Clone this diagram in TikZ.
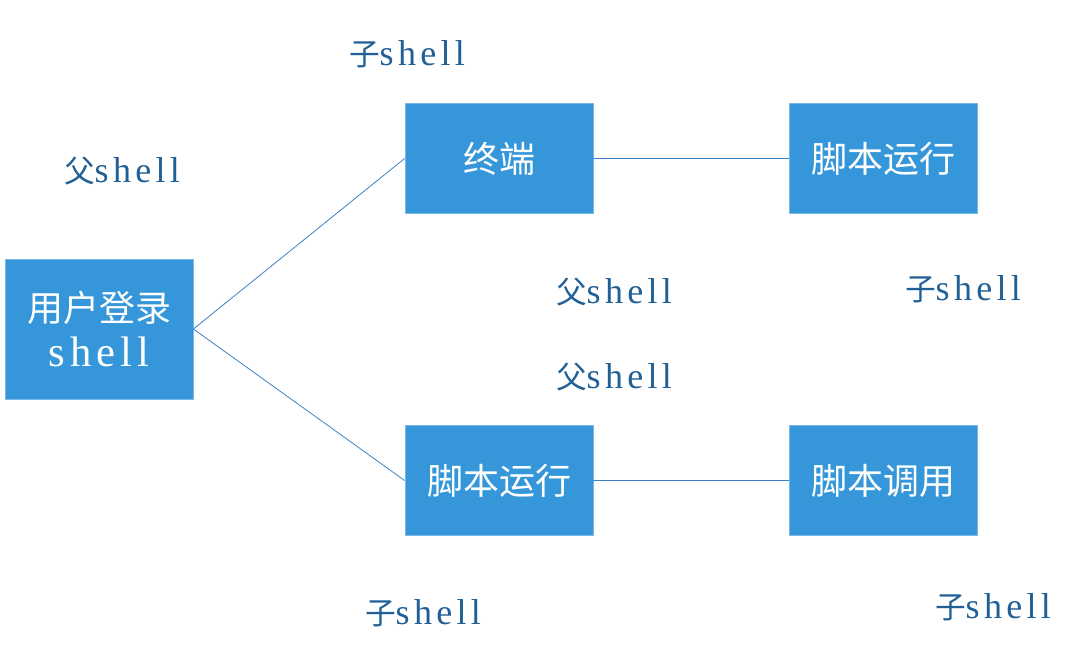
\documentclass[tikz,border=0pt]{standalone}
\usepackage{fontspec}
\newfontfamily\cjk{Noto Sans CJK SC}
\newfontfamily\lat[LetterSpace=12]{Liberation Serif}
\definecolor{boxblue}{RGB}{53,151,218}
\definecolor{boxedge}{RGB}{120,185,230}
\definecolor{linkblue}{RGB}{60,130,200}
\definecolor{labblue}{RGB}{32,96,150}
\newcommand{\shl}[1]{{\lat\fontsize{#1}{#1}\selectfont shell}}
\begin{document}
\begin{tikzpicture}[x=0.75pt,y=-0.75pt,
  box/.style={draw=boxedge,line width=0.6pt,fill=boxblue,minimum width=141pt,minimum height=83pt,inner sep=0pt,text=white,align=center,font=\cjk\fontsize{27}{34}\selectfont},
  lab/.style={text=labblue,inner sep=0pt,font=\cjk\fontsize{23}{28}\selectfont},
  link/.style={draw=linkblue,line width=0.6pt}]
\useasboundingbox (0,0) rectangle (1068,660);
\node[box,minimum height=105pt] (login) at (99,329) {用户登录\\\shl{32}};
\node[box] (term) at (499,158.5) {终端};
\node[box] (run1) at (883,158.5) {脚本运行};
\node[box] (run2) at (499,480.5) {脚本运行};
\node[box] (call) at (883,480.5) {脚本调用};
\draw[link] (login.east) -- (term.west);
\draw[link] (login.east) -- (run2.west);
\draw[link] (term.east) -- (run1.west);
\draw[link] (run2.east) -- (call.west);
\node[lab] (l1) at (407,54) {子\shl{27}};
\node[lab] (l2) at (122,171) {父\shl{27}};
\node[lab] (l3) at (614,292) {父\shl{27}};
\node[lab] (l4) at (963,289) {子\shl{27}};
\node[lab] (l5) at (614,377) {父\shl{27}};
\node[lab] (l6) at (423,613) {子\shl{27}};
\node[lab] (l7) at (993,607) {子\shl{27}};
\end{tikzpicture}
\end{document}
